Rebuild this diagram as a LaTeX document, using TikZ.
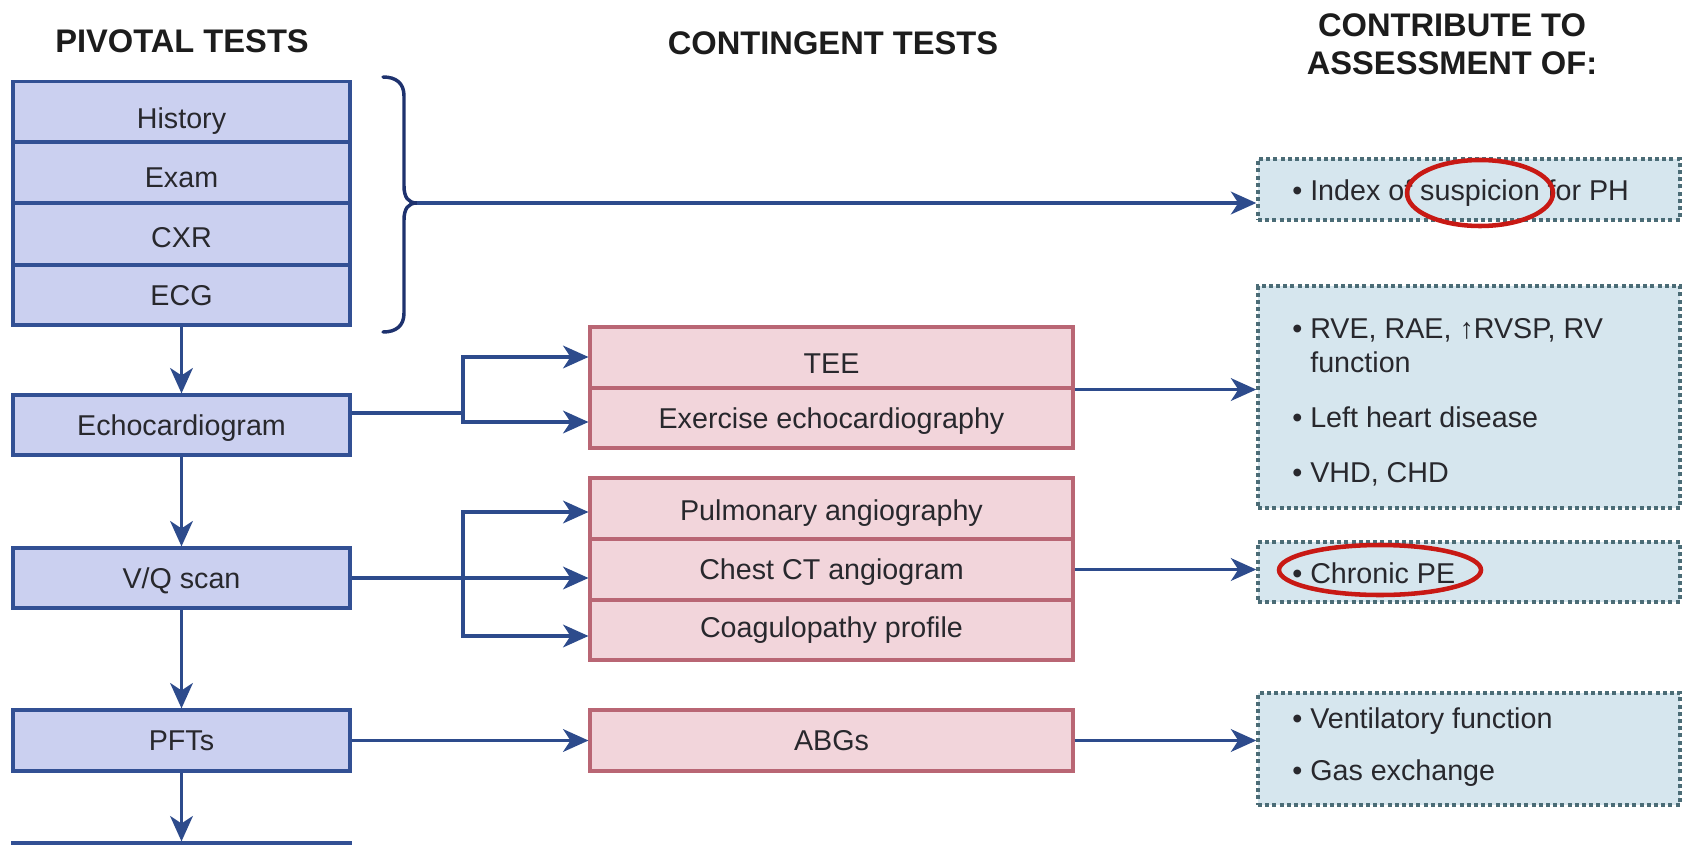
\documentclass[tikz,border=0pt]{standalone}
\usepackage{fontspec}
\setmainfont{Liberation Sans}
\usetikzlibrary{arrows.meta,shapes.geometric}
\definecolor{bluefill}{RGB}{203,208,240}
\definecolor{blueline}{RGB}{50,80,148}
\definecolor{pinkfill}{RGB}{242,213,219}
\definecolor{pinkline}{RGB}{185,102,116}
\definecolor{tealfill}{RGB}{214,230,238}
\definecolor{tealline}{RGB}{75,108,118}
\definecolor{arrowc}{RGB}{45,75,140}
\definecolor{bracec}{RGB}{30,50,110}
\definecolor{txt}{RGB}{40,40,45}
\definecolor{titlec}{RGB}{28,28,28}
\definecolor{redc}{RGB}{200,25,20}
\newcommand{\lowertext}[2]{\raisebox{-#1}{#2}}
\begin{document}
\begin{tikzpicture}[x=0.75pt,y=-0.75pt,
  base/.style={rectangle, inner sep=0pt, text=txt, font=\fontsize{21.5}{24}\selectfont, text height=15.4pt, text depth=0pt},
  pivbox/.style={base, draw=blueline, fill=bluefill, line width=2.4pt, minimum width=337*0.75pt},
  contbox/.style={base, draw=pinkline, fill=pinkfill, line width=2.3pt, minimum width=483*0.75pt},
  assbox/.style={rectangle, inner sep=0pt, draw=tealline, fill=tealfill, line width=2.6pt, dash pattern=on 3pt off 2.4pt, minimum width=422*0.75pt},
  asstxt/.style={anchor=base west, inner sep=0pt, text=txt, font=\fontsize{21.5}{24}\selectfont},
  title/.style={inner sep=0pt, text=titlec, font=\bfseries\fontsize{24.5}{28.5}\selectfont, align=center},
  conn/.style={draw=arrowc, line width=2.4pt},
  arr/.style={conn, -{Stealth[length=19pt,width=17pt,inset=5.5pt]}},
  ring/.style={ellipse, draw=redc, line width=3.4pt, inner sep=0pt}]
\fill[white] (0,0) rectangle (1683,845);
\useasboundingbox (0,0) rectangle (1683,845);
\clip (0,0) rectangle (1683,845);

% titles
\node[title] (t1) at (182,41) {PIVOTAL TESTS};
\node[title] (t2) at (833,43) {CONTINGENT TESTS};
\node[title] (t3) at (1452,44) {CONTRIBUTE TO\\ASSESSMENT OF:};

% pivotal tests
\node[pivbox, minimum height=61*0.75pt] (hist) at (181.5,112) {\lowertext{5pt}{History}};
\node[pivbox, minimum height=61*0.75pt] (exam) at (181.5,172.5) {\lowertext{3.3pt}{Exam}};
\node[pivbox, minimum height=62*0.75pt] (cxr) at (181.5,234) {\lowertext{2.2pt}{CXR}};
\node[pivbox, minimum height=60*0.75pt] (ecg) at (181.5,295) {ECG};
\node[pivbox, minimum height=60*0.75pt] (echo) at (181.5,425) {Echocardiogram};
\node[pivbox, minimum height=60*0.75pt] (vq) at (181.5,578) {V/Q scan};
\node[pivbox, minimum height=61*0.75pt] (pft) at (181.5,740.5) {PFTs};
\node[pivbox, minimum height=60*0.75pt] (nextbox) at (181.5,873) {};

% contingent tests
\node[contbox, minimum height=61*0.75pt] (tee) at (831.5,357.5) {\lowertext{4.5pt}{TEE}};
\node[contbox, minimum height=60*0.75pt] (exer) at (831.5,418) {Exercise echocardiography};
\node[contbox, minimum height=61*0.75pt] (pulm) at (831.5,508.5) {\lowertext{1.5pt}{Pulmonary angiography}};
\node[contbox, minimum height=61*0.75pt] (chest) at (831.5,569.5) {Chest CT angiogram};
\node[contbox, minimum height=60*0.75pt] (coag) at (831.5,630) {\raisebox{2pt}{Coagulopathy profile}};
\node[contbox, minimum height=61*0.75pt] (abg) at (831.5,740.5) {ABGs};

% assessment boxes
\node[assbox, minimum height=61*0.75pt] (idx) at (1469,189.5) {};
\node[assbox, minimum height=222*0.75pt] (sum2) at (1469,397) {};
\node[assbox, minimum height=60*0.75pt] (chron) at (1469,572) {};
\node[assbox, minimum height=112*0.75pt] (sum4) at (1469,749) {};

\node[asstxt] (la) at (1292,200) {\textbullet\ Index of suspicion for PH};
\node[asstxt] (lb1) at (1292,338) {\textbullet\ RVE, RAE, ↑RVSP, RV};
\node[asstxt] (lb2) at (1292,372) {\phantom{\textbullet\ }function};
\node[asstxt] (lb3) at (1292,427) {\textbullet\ Left heart disease};
\node[asstxt] (lb4) at (1292,482) {\textbullet\ VHD, CHD};
\node[asstxt] (lc) at (1292,583) {\textbullet\ Chronic PE};
\node[asstxt] (ld1) at (1292,728) {\textbullet\ Ventilatory function};
\node[asstxt] (ld2) at (1292,780) {\textbullet\ Gas exchange};

% red rings
\node[ring, minimum width=146*0.75pt, minimum height=66*0.75pt] (ring1) at (1480,193) {};
\node[ring, minimum width=202*0.75pt, minimum height=50*0.75pt] (ring2) at (1380,570) {};

% brace
\draw[draw=bracec, line width=2.6pt, line cap=round]
  (383,77) .. controls (396,77) and (404,83) .. (404,96) -- (404,186)
  .. controls (404,197) and (408,203) .. (417,203)
  .. controls (408,203) and (404,209) .. (404,220) -- (404,313)
  .. controls (404,326) and (396,332) .. (383,332);
\coordinate (tip) at (417,203);
\draw[arr] (tip) -- (tip -| idx.west);

% vertical flow
\draw[arr] (ecg.south) -- (echo.north);
\draw[arr] (echo.south) -- (vq.north);
\draw[arr] (vq.south) -- (pft.north);
\draw[arr] (pft.south) -- (nextbox.north);

% echo branch
\coordinate (b1) at (463,413);
\coordinate (y1) at (0,357);
\coordinate (y2) at (0,422);
\draw[conn] (echo.east |- b1) -- (b1);
\draw[arr] (b1) |- (tee.west |- y1);
\draw[arr] (b1) |- (exer.west |- y2);

% V/Q branch
\coordinate (b2) at (463,578);
\coordinate (y3) at (0,512);
\coordinate (y4) at (0,636);
\draw[arr] (vq.east) -- (vq.east -| chest.west);
\draw[arr] (b2) |- (pulm.west |- y3);
\draw[arr] (b2) |- (coag.west |- y4);

% PFTs
\draw[arr] (pft.east) -- (abg.west);

% to assessment
\draw[arr] (tee.south east) -- (tee.south east -| sum2.west);
\draw[arr] (chest.east) -- (chest.east -| chron.west);
\draw[arr] (abg.east) -- (abg.east -| sum4.west);
\end{tikzpicture}
\end{document}
